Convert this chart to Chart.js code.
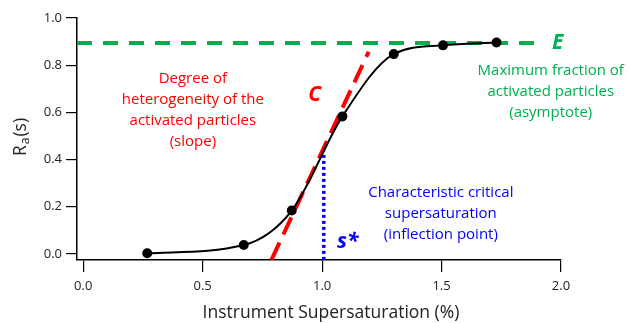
<!DOCTYPE html>
<html>
<head>
<meta charset="utf-8">
<script src="https://cdn.jsdelivr.net/npm/chart.js@4"></script>
<style>
  html, body { margin: 0; padding: 0; background: #fff; }
  #wrap { width: 629px; height: 323px; }
</style>
</head>
<body>
<div id="wrap"><canvas id="ccn"></canvas></div>
<script>
// activation curve: measured points + fitted lines
var ssX = [0.268, 0.672, 0.873, 1.085, 1.30, 1.506, 1.73];
var raY = [0.003, 0.038, 0.184, 0.583, 0.847, 0.884, 0.896];

var asymX = [-0.026, 1.91];      // E, asymptote
var asymY = [0.894, 0.894];
var slopeX = [0.788, 1.195];     // C, slope
var slopeY = [-0.025, 0.857];
var sStarX = [1.007, 1.007];     // s*, inflection
var sStarY = [-0.025, 0.434];

var xTicks = [0, 0.5, 1.0, 1.5, 2.0];
var yTicks = [0, 0.2, 0.4, 0.6, 0.8, 1.0];

function pts(xs, ys) { return xs.map(function (x, i) { return {x: x, y: ys[i]}; }); }

var FONT = '"Open Sans", sans-serif';

// text labels, placed in data units
var notes = [
  {lines: ['Degree of', 'heterogeneity of the', 'activated particles', '(slope)'], x: 0.459, y: 0.742, color: '#ff0000'},
  {lines: ['Maximum fraction of', 'activated particles', '(asymptote)'], x: 1.957, y: 0.776, color: '#00b050'},
  {lines: ['Characteristic critical', 'supersaturation', '(inflection point)'], x: 1.497, y: 0.259, color: '#0000ff'}
];
var marks = [
  {text: 'C', x: 0.969, y: 0.675, color: '#ff0000'},
  {text: 'E', x: 1.986, y: 0.895, color: '#00b050'},
  {text: 's*', x: 1.107, y: 0.051, color: '#0000ff'}
];

var annot = {
  id: 'annot',
  afterDatasetsDraw: function (chart) {
    var c = chart.ctx, xs = chart.scales.x, ys = chart.scales.y;
    c.save();
    c.textAlign = 'center';
    c.textBaseline = 'middle';
    c.font = '15px ' + FONT;
    notes.forEach(function (n) {
      c.fillStyle = n.color;
      var px = xs.getPixelForValue(n.x), py = ys.getPixelForValue(n.y);
      n.lines.forEach(function (l, i) { c.fillText(l, px, py + i * 21); });
    });
    c.font = 'italic bold 21px ' + FONT;
    marks.forEach(function (m) {
      c.fillStyle = m.color;
      c.fillText(m.text, xs.getPixelForValue(m.x), ys.getPixelForValue(m.y));
    });
    // axis titles
    c.fillStyle = '#222';
    c.font = '17.5px ' + FONT;
    c.fillText('Instrument Supersaturation (%)', 331, 313);
    c.translate(21, 137);
    c.rotate(-Math.PI / 2);
    c.textAlign = 'left';
    var w1 = c.measureText('R').width;
    c.font = '12px ' + FONT;
    var w2 = c.measureText('a').width;
    c.font = '17.5px ' + FONT;
    var w3 = c.measureText('(s)').width;
    var x0 = -(w1 + w2 + w3 + 2) / 2;
    c.fillText('R', x0, 0);
    c.font = '12px ' + FONT;
    c.fillText('a', x0 + w1 + 1, 5);
    c.font = '17.5px ' + FONT;
    c.fillText('(s)', x0 + w1 + w2 + 2, 0);
    c.restore();
  }
};

new Chart('ccn', {
  type: 'line',
  data: {
    datasets: [{
      data: pts(ssX, raY),
      borderColor: '#000',
      backgroundColor: '#000',
      borderWidth: 2,
      pointRadius: 4,
      pointHoverRadius: 4,
      cubicInterpolationMode: 'monotone',
      order: 0
    }, {
      data: pts(asymX, asymY),
      borderColor: '#00b050',
      borderWidth: 4,
      borderDash: [15, 11],
      pointRadius: 0,
      order: 1
    }, {
      data: pts(slopeX, slopeY),
      borderColor: '#ff0000',
      borderWidth: 4,
      borderDash: [19, 9],
      pointRadius: 0,
      order: 2
    }, {
      data: pts(sStarX, sStarY),
      borderColor: '#0000ff',
      borderWidth: 3.5,
      borderDash: [3, 3],
      pointRadius: 0,
      order: 3
    }]
  },
  options: {
    responsive: true,
    maintainAspectRatio: false,
    animation: false,
    layout: { padding: { top: 18, right: 68, left: 0, bottom: 0 } },
    plugins: { legend: { display: false }, tooltip: { enabled: false } },
    scales: {
      x: {
        type: 'linear',
        min: -0.026,
        max: 2.0,
        afterBuildTicks: function (s) { s.ticks = xTicks.map(function (v) { return {value: v}; }); },
        afterFit: function (s) { s.height = 63; },
        grid: { drawOnChartArea: false, drawTicks: true, tickLength: 12, color: '#000', lineWidth: 1.2 },
        border: { display: true, color: '#000', width: 1.5 },
        ticks: {
          color: '#222', padding: 6, maxRotation: 0,
          font: { family: FONT, size: 13 },
          callback: function (v) { return v.toFixed(1); }
        }
      },
      y: {
        type: 'linear',
        min: -0.0255,
        max: 1.0,
        afterBuildTicks: function (s) { s.ticks = yTicks.map(function (v) { return {value: v}; }); },
        afterFit: function (s) { s.width = 77; },
        grid: { drawOnChartArea: false, drawTicks: true, tickLength: 11, color: '#000', lineWidth: 1.2 },
        border: { display: true, color: '#000', width: 1.5 },
        ticks: {
          color: '#222', padding: 4,
          font: { family: FONT, size: 13 },
          callback: function (v) { return v.toFixed(1); }
        }
      }
    }
  },
  plugins: [annot]
});
</script>
</body>
</html>
